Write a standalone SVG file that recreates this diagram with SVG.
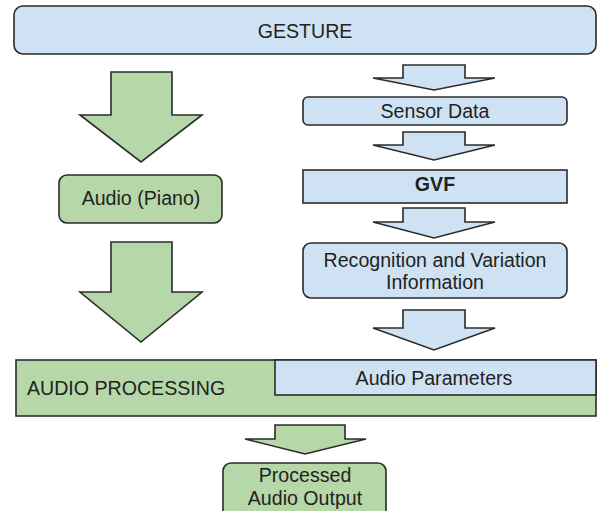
<svg xmlns="http://www.w3.org/2000/svg" width="598" height="511" viewBox="0 0 598 511">
<style>
.blue{fill:#cfe2f3;stroke:#2b2b2b;stroke-width:1.6}
.green{fill:#b6d7a8;stroke:#2b2b2b;stroke-width:1.6}
.t{font-family:"Liberation Sans",Arial,sans-serif;font-size:19.6px;fill:#222;text-anchor:middle}
.b{font-weight:bold}
</style>
<rect width="598" height="511" fill="#fff"/>
<g id="gesture"><rect class="blue" x="14" y="6" width="582" height="48" rx="9"/><text class="t" x="305" y="38">GESTURE</text></g>
<g id="audio-piano"><rect class="green" x="59" y="175" width="163" height="48" rx="8"/><text class="t" x="141" y="205">Audio (Piano)</text></g>
<g id="sensor-data"><rect class="blue" x="303" y="97" width="264" height="28" rx="5"/><text class="t" x="435" y="118">Sensor Data</text></g>
<g id="gvf"><rect class="blue" x="303" y="170" width="264" height="33"/><text class="t b" x="435" y="191">GVF</text></g>
<g id="recognition"><rect class="blue" x="303" y="243" width="264" height="55" rx="8"/><text class="t" x="435" y="267">Recognition and Variation</text><text class="t" x="435" y="289">Information</text></g>
<g id="audio-processing"><rect class="green" x="16" y="360" width="580" height="56"/><text class="t" x="27" y="395" style="text-anchor:start">AUDIO PROCESSING</text></g>
<g id="audio-parameters"><rect class="blue" x="275" y="360" width="321" height="35"/><text class="t" x="434" y="385">Audio Parameters</text></g>
<g id="processed-output"><rect class="green" x="223" y="463" width="163" height="60" rx="8"/><text class="t" x="305" y="482">Processed</text><text class="t" x="305" y="505">Audio Output</text></g>
<g id="connectors">
<polygon class="green" points="111,72 172,72 172,115 202,115 141,162 80,115 111,115"/>
<polygon class="green" points="111,242 172,242 172,292 202,292 141,342 80,292 111,292"/>
<polygon class="blue" points="403,65 465,65 465,78 495,78 434,90 373,78 403,78"/>
<polygon class="blue" points="403,132 465,132 465,145 495,145 434,160 373,145 403,145"/>
<polygon class="blue" points="403,208 465,208 465,222 495,222 434,238 373,222 403,222"/>
<polygon class="blue" points="403,310 465,310 465,328 495,328 434,350 373,328 403,328"/>
<polygon class="green" points="275,425 345,425 345,439 366,439 305,454 245,439 275,439"/>
</g>
</svg>
